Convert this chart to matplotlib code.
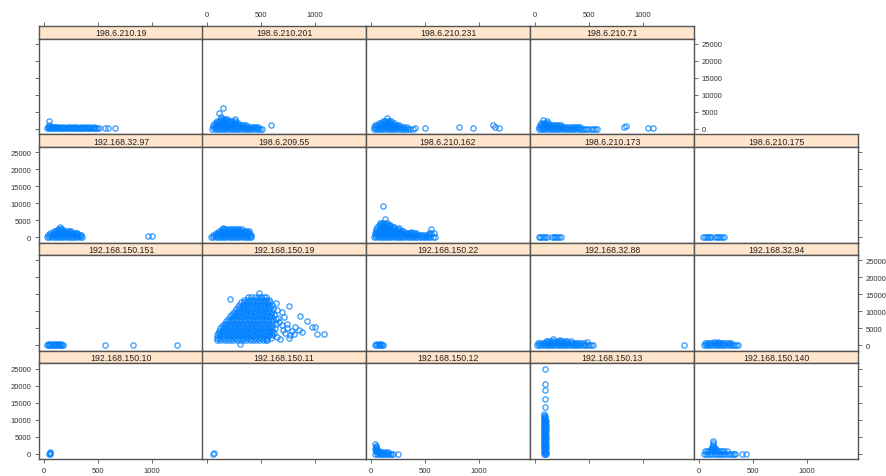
import matplotlib
matplotlib.use("Agg")
import matplotlib.pyplot as plt

# panel names, laid out as in the lattice plot (top row first)
layout = [
    ["198.6.210.19", "198.6.210.201", "198.6.210.231", "198.6.210.71", None],
    ["192.168.32.97", "198.6.209.55", "198.6.210.162", "198.6.210.173", "198.6.210.175"],
    ["192.168.150.151", "192.168.150.19", "192.168.150.22", "192.168.32.88", "192.168.32.94"],
    ["192.168.150.10", "192.168.150.11", "192.168.150.12", "192.168.150.13", "192.168.150.140"],
]

x_ticks = [0, 500, 1000]
y_ticks = [0, 5000, 10000, 15000, 20000, 25000]

# points per panel: rows of (y, [x values])
p_198_6_210_19 = [
    (100, [30, 45, 60, 75, 90, 105, 120, 135, 150, 165, 180, 195, 210, 225, 240, 255, 270,
           285, 300, 315, 330, 345, 360, 375, 390, 405, 420, 435, 450, 465, 480, 495, 510]),
    (450, [40, 55, 70, 85, 100, 115, 130, 160, 190, 220, 250, 280, 310, 340, 370, 400, 430, 460]),
    (970, [50]), (2340, [48]), (150, [565]), (90, [593, 657]),
]
p_198_6_210_201 = [
    (0, [50, 70, 90, 110, 130, 150, 170, 190, 210, 230, 250, 270, 290, 310, 330, 350, 370,
         390, 410, 430, 450, 470, 490, 510]),
    (600, [55, 75, 95, 115, 135, 155, 175, 195, 215, 235, 255, 275, 295, 315, 335, 355, 375,
           395, 415, 435, 455, 475]),
    (1200, [60, 80, 100, 120, 140, 160, 180, 200, 220, 240, 260, 280, 300, 320, 340, 360]),
    (1800, [70, 90, 110, 130, 150, 170, 190, 210, 230, 250, 270, 290]),
    (2400, [95, 115, 135, 155, 175, 195, 215, 235, 255]),
    (3000, [130, 150, 170, 190]),
    (6060, [151]), (4590, [108]), (2930, [262]), (1170, [590]), (3600, [130]),
]
p_198_6_210_231 = [
    (0, [25, 45, 65, 85, 105, 125, 145, 165, 185, 205, 225, 245, 265, 285, 305, 325, 345,
         365, 385]),
    (600, [30, 50, 70, 90, 110, 130, 150, 170, 190, 210, 230, 250, 270, 290, 310, 330]),
    (1200, [40, 60, 80, 100, 120, 140, 160, 180, 200, 220, 240, 260]),
    (1800, [70, 90, 110, 130, 150, 170, 190, 210]),
    (2400, [110, 130, 150, 170, 190]),
    (3220, [145]), (200, [407, 941, 1188]), (150, [500]), (590, [815]),
    (1170, [1132]), (600, [1146]),
]
p_198_6_210_71 = [
    (0, [35, 55, 75, 95, 115, 135, 155, 175, 195, 215, 235, 255, 275, 295, 315, 335, 355,
         375, 395, 415, 435, 455, 475, 495, 515, 535, 555, 570]),
    (600, [40, 60, 80, 100, 120, 140, 160, 180, 200, 220, 240, 260, 280, 300, 320, 340, 360,
           380, 400, 420]),
    (1200, [45, 65, 85, 105, 125, 145, 165, 185, 205, 225, 240]),
    (1800, [60, 80, 100, 120]),
    (2730, [71]), (2200, [110]), (590, [827]), (800, [840]), (200, [1049, 1095]),
]
p_192_168_32_97 = [
    (0, [30, 50, 70, 90, 110, 130, 150, 170, 190, 210, 230, 250, 270, 290, 310, 330, 350]),
    (600, [35, 55, 75, 95, 115, 135, 155, 175, 195, 215, 235, 255, 275, 295, 315, 340]),
    (1200, [60, 80, 100, 120, 140, 160, 180, 200, 220, 240, 260, 280, 300]),
    (1800, [90, 110, 130, 150, 170, 190, 210, 230, 250]),
    (2400, [130, 150, 170]),
    (2850, [148]), (1180, [309]), (500, [335]), (400, [966]), (300, [997]),
]
p_198_6_209_55 = [
    (0, [40, 60, 80, 100, 120, 140, 160, 180, 200, 220, 240, 260, 280, 300, 320, 340, 360,
         380, 400, 410]),
    (600, [55, 75, 95, 115, 135, 155, 175, 195, 215, 235, 255, 275, 295, 315, 335, 355, 375,
           395, 405]),
    (1200, [80, 100, 120, 140, 160, 180, 200, 220, 240, 260, 280, 300, 320, 340, 360, 380, 390]),
    (1800, [110, 130, 150, 170, 190, 210, 230, 250, 270, 290, 310, 330, 350, 370]),
    (2300, [140, 160, 180, 200, 220, 240, 260, 280, 300, 320]),
    (2540, [151]), (1760, [392]),
]
p_198_6_210_162 = [
    (0, [30, 50, 70, 90, 110, 130, 150, 170, 190, 210, 230, 250, 270, 290, 310, 330, 350,
         370, 390, 410, 430, 450, 470, 490, 510, 530, 550, 570, 590]),
    (600, [35, 55, 75, 95, 115, 135, 155, 175, 195, 215, 235, 255, 275, 295, 315, 335, 355,
           375, 395, 415, 435, 455, 475, 495, 515, 540]),
    (1200, [40, 60, 80, 100, 120, 140, 160, 180, 200, 220, 240, 260, 280, 300, 320, 340,
            360, 380, 400, 420, 540, 560]),
    (1800, [45, 65, 85, 105, 125, 145, 165, 185, 205, 225, 245, 265, 285, 300]),
    (2400, [50, 70, 90, 110, 130, 150, 170, 190, 210, 230, 250]),
    (3000, [60, 80, 100, 120, 140, 160, 180, 200, 210]),
    (3600, [70, 90, 110, 130, 150, 170, 180]),
    (4200, [85, 105, 125, 150]),
    (9110, [108]), (5390, [130]), (2740, [262]), (1470, [370]), (2250, [556]), (1080, [586]),
]
p_198_6_210_173 = [
    (0, [35, 50, 65, 80, 95, 110, 160, 175, 190, 205, 220, 240]),
]
p_198_6_210_175 = [
    (0, [40, 55, 70, 85, 100, 115, 150, 165, 180, 195, 210, 235]),
]
p_192_168_150_151 = [
    (100, [30, 45, 60, 75, 90, 105, 120, 135, 150, 165, 178]),
    (500, [40, 60, 80, 100, 120, 140, 160]),
    (0, [565, 827, 1229]),
]
p_192_168_150_19 = [
    (1500, [95, 125, 155, 185, 215, 245, 275, 305, 335, 365, 395, 425, 455, 485, 515, 545, 560]),
    (2200, [90, 110, 140, 170, 200, 230, 260, 290, 320, 350, 380, 410, 440, 470, 500, 530,
            560, 590]),
    (2900, [95, 125, 155, 185, 215, 245, 275, 305, 335, 365, 395, 425, 455, 485, 515, 545,
            575, 600]),
    (3600, [100, 120, 150, 180, 210, 240, 270, 300, 330, 360, 390, 420, 450, 480, 510, 540,
            570, 600, 625]),
    (4300, [108, 135, 165, 195, 225, 255, 285, 315, 345, 375, 405, 435, 465, 495, 525, 555,
            585, 605]),
    (5000, [120, 150, 180, 210, 240, 270, 300, 330, 360, 390, 420, 450, 480, 510, 540, 570,
            600, 630]),
    (5700, [135, 165, 195, 225, 255, 285, 315, 345, 375, 405, 435, 465, 495, 525, 555, 590]),
    (6400, [158, 180, 210, 240, 270, 300, 330, 360, 390, 420, 450, 480, 510, 540, 570, 600, 635]),
    (7100, [178, 205, 235, 265, 295, 325, 355, 385, 415, 445, 475, 505, 535, 565, 600]),
    (7800, [198, 220, 250, 280, 310, 340, 370, 400, 430, 460, 490, 520, 550, 580, 610, 640]),
    (8500, [215, 245, 275, 305, 335, 365, 395, 425, 455, 485, 515, 545, 575, 595]),
    (9200, [232, 260, 290, 320, 350, 380, 410, 440, 470, 500, 530, 560, 590, 625]),
    (9900, [252, 275, 305, 335, 365, 395, 425, 455, 485, 515, 545, 575, 600]),
    (10600, [272, 300, 330, 360, 390, 420, 450, 480, 510, 540, 570, 615]),
    (11300, [286, 315, 345, 375, 405, 435, 465, 495, 525, 555, 585]),
    (12000, [300, 330, 360, 390, 420, 450, 480, 510, 540, 570, 600]),
    (12700, [318, 345, 375, 405, 435, 465, 495, 525, 555, 580]),
    (13400, [342, 370, 400, 430, 460, 490, 520, 550, 572]),
    (14100, [380, 410, 440, 470, 500, 530, 545]),
    (13580, [216]), (15500, [478]), (485, [309]), (11640, [756]), (8530, [864]),
    (7270, [926]), (5530, [972, 1003]), (3190, [1018, 1080]), (9700, [694]),
    (8240, [710]), (5240, [818]), (3300, [802]), (3880, [880]), (3500, [725]),
    (2900, [772]), (6790, [664]), (2430, [648]), (6300, [741]), (4500, [700, 850]),
    (1800, [680]), (10500, [650]), (12500, [640]), (8000, [660]), (6000, [690]),
    (5000, [740]), (4200, [790]), (2000, [760]),
]
p_192_168_150_22 = [
    (0, [40, 55, 70, 85, 100, 115]),
    (300, [50, 70, 90]),
]
p_192_168_32_88 = [
    (0, [20, 40, 60, 80, 100, 120, 140, 160, 180, 200, 220, 240, 260, 280, 300, 320, 340,
         360, 380, 400, 420, 440, 460, 480, 500, 520, 535]),
    (600, [30, 50, 70, 90, 110, 130, 150, 170, 190, 210, 230, 250, 270, 290, 310, 330, 350,
           370, 390, 410, 430, 450]),
    (1200, [100, 125, 150, 175, 200, 225, 250, 275, 300, 330]),
    (1950, [170]), (1500, [230]), (900, [480]), (0, [1383]),
]
p_192_168_32_94 = [
    (0, [45, 65, 85, 105, 125, 145, 165, 185, 205, 225, 245, 265, 285, 305, 325, 345, 364]),
    (600, [55, 75, 95, 115, 135, 155, 175, 195, 215, 235, 255, 280, 300]),
    (960, [140, 180]),
]
p_192_168_150_10 = [
    (0, [50, 60]), (200, [56]), (300, [53]),
]
p_192_168_150_11 = [
    (0, [59]), (150, [62]),
]
p_192_168_150_12 = [
    (2850, [40]), (2300, [45]), (1800, [42, 50]), (1300, [48, 40]), (900, [44, 55]),
    (600, [50, 70]),
    (0, [40, 55, 70, 85, 100, 115, 130, 145, 160, 175, 190, 205, 254]),
    (400, [55, 75, 95, 115, 135, 160]),
]
p_192_168_150_13 = [
    (0, [80, 92, 104]), (500, [80, 92, 102]), (1000, [82, 94]), (1500, [80, 92, 102]),
    (2000, [82, 94]), (2500, [80, 92, 100]), (3000, [82, 94]), (3500, [80, 92, 100]),
    (4000, [82, 94]), (4500, [80, 92, 100]), (5000, [82, 94]), (5500, [80, 92, 100]),
    (6000, [82, 94]), (6500, [80, 92, 100]), (7000, [82, 94]), (7500, [80, 92, 100]),
    (8000, [82, 94]), (8500, [80, 92, 100]), (9000, [82, 94]), (9500, [80, 92, 100]),
    (10000, [82, 94]), (10500, [82, 96]), (11000, [84, 94]), (11600, [88]),
    (13820, [93]), (16080, [93]), (18600, [93]), (20580, [93]), (24900, [93]),
]
p_192_168_150_140 = [
    (0, [45, 65, 85, 105, 125, 145, 165, 185, 205, 225, 245, 265, 285, 305, 325, 335]),
    (600, [55, 75, 95, 115, 135, 155, 175, 195, 215, 235, 260]),
    (1200, [110, 125, 140, 155]), (1800, [125, 140]), (2400, [133]), (3000, [133]),
    (3600, [133]), (0, [395, 435]),
]

panel_data = {
    "198.6.210.19": p_198_6_210_19, "198.6.210.201": p_198_6_210_201,
    "198.6.210.231": p_198_6_210_231, "198.6.210.71": p_198_6_210_71,
    "192.168.32.97": p_192_168_32_97, "198.6.209.55": p_198_6_209_55,
    "198.6.210.162": p_198_6_210_162, "198.6.210.173": p_198_6_210_173,
    "198.6.210.175": p_198_6_210_175, "192.168.150.151": p_192_168_150_151,
    "192.168.150.19": p_192_168_150_19, "192.168.150.22": p_192_168_150_22,
    "192.168.32.88": p_192_168_32_88, "192.168.32.94": p_192_168_32_94,
    "192.168.150.10": p_192_168_150_10, "192.168.150.11": p_192_168_150_11,
    "192.168.150.12": p_192_168_150_12, "192.168.150.13": p_192_168_150_13,
    "192.168.150.140": p_192_168_150_140,
}

plt.rcParams['font.family'] = ['Liberation Sans', 'DejaVu Sans']

W, H = 886, 477
fig = plt.figure(figsize=(W / 100, H / 100), dpi=100)


def box(l, t, w, h):
    # pixel box -> figure fraction
    return [l / W, 1 - (t + h) / H, w / W, h / H]


col_left = [39, 202, 366, 530, 694]
col_w = 164
row_top = [27, 135.25, 243.5, 351.75]
strip_h = 12.5
panel_h = 95.75
xlim = (-46, 1472)
ylim = (-1620, 26620)
edge = '#555555'
tick_kw = dict(direction='out', length=3, width=0.6, color=edge,
               labelsize=5.5, labelcolor='#333333')

for r, row in enumerate(layout):
    last_col = max(c for c, n in enumerate(row) if n is not None)
    for c, name in enumerate(row):
        if name is None:
            continue
        top = row_top[r]
        # strip
        sx = fig.add_axes(box(col_left[c], top, col_w, strip_h))
        sx.set_facecolor('#ffe5cc')
        sx.set_xlim(xlim)
        sx.set_yticks([])
        sx.text(0.5, 0.45, name, transform=sx.transAxes, ha='center', va='center',
                fontsize=6.3, color='#222222')
        if r == 0:
            sx.xaxis.tick_top()
            sx.set_xticks(x_ticks)
            sx.tick_params(axis='x', pad=3, labeltop=(c % 2 == 1), **tick_kw)
        else:
            sx.set_xticks([])
        for s in sx.spines.values():
            s.set_color(edge)
            s.set_linewidth(1.0)

        # panel
        ax = fig.add_axes(box(col_left[c], top + strip_h, col_w, panel_h))
        xs, ys = [], []
        for y, row_x in panel_data[name]:
            for x in row_x:
                xs.append(x)
                ys.append(y)
        ax.plot(xs, ys, 'o', mfc='none', mec='#0080ff', ms=3.8, mew=0.9,
                alpha=0.8, clip_on=False)
        ax.set_xlim(xlim)
        ax.set_ylim(ylim)
        for s in ax.spines.values():
            s.set_color(edge)
            s.set_linewidth(1.0)

        if r == len(layout) - 1:
            ax.set_xticks(x_ticks)
            ax.tick_params(axis='x', pad=3, labelbottom=(c % 2 == 0), **tick_kw)
        else:
            ax.set_xticks([])

        left = c == 0
        right = c == last_col
        if left or right:
            ax.set_yticks(y_ticks)
            ax.tick_params(axis='y', pad=2.5, left=left, right=right,
                           labelleft=left and r % 2 == 1,
                           labelright=right and r % 2 == 0, **tick_kw)
        else:
            ax.set_yticks([])

fig.savefig("out.png", dpi=100)
